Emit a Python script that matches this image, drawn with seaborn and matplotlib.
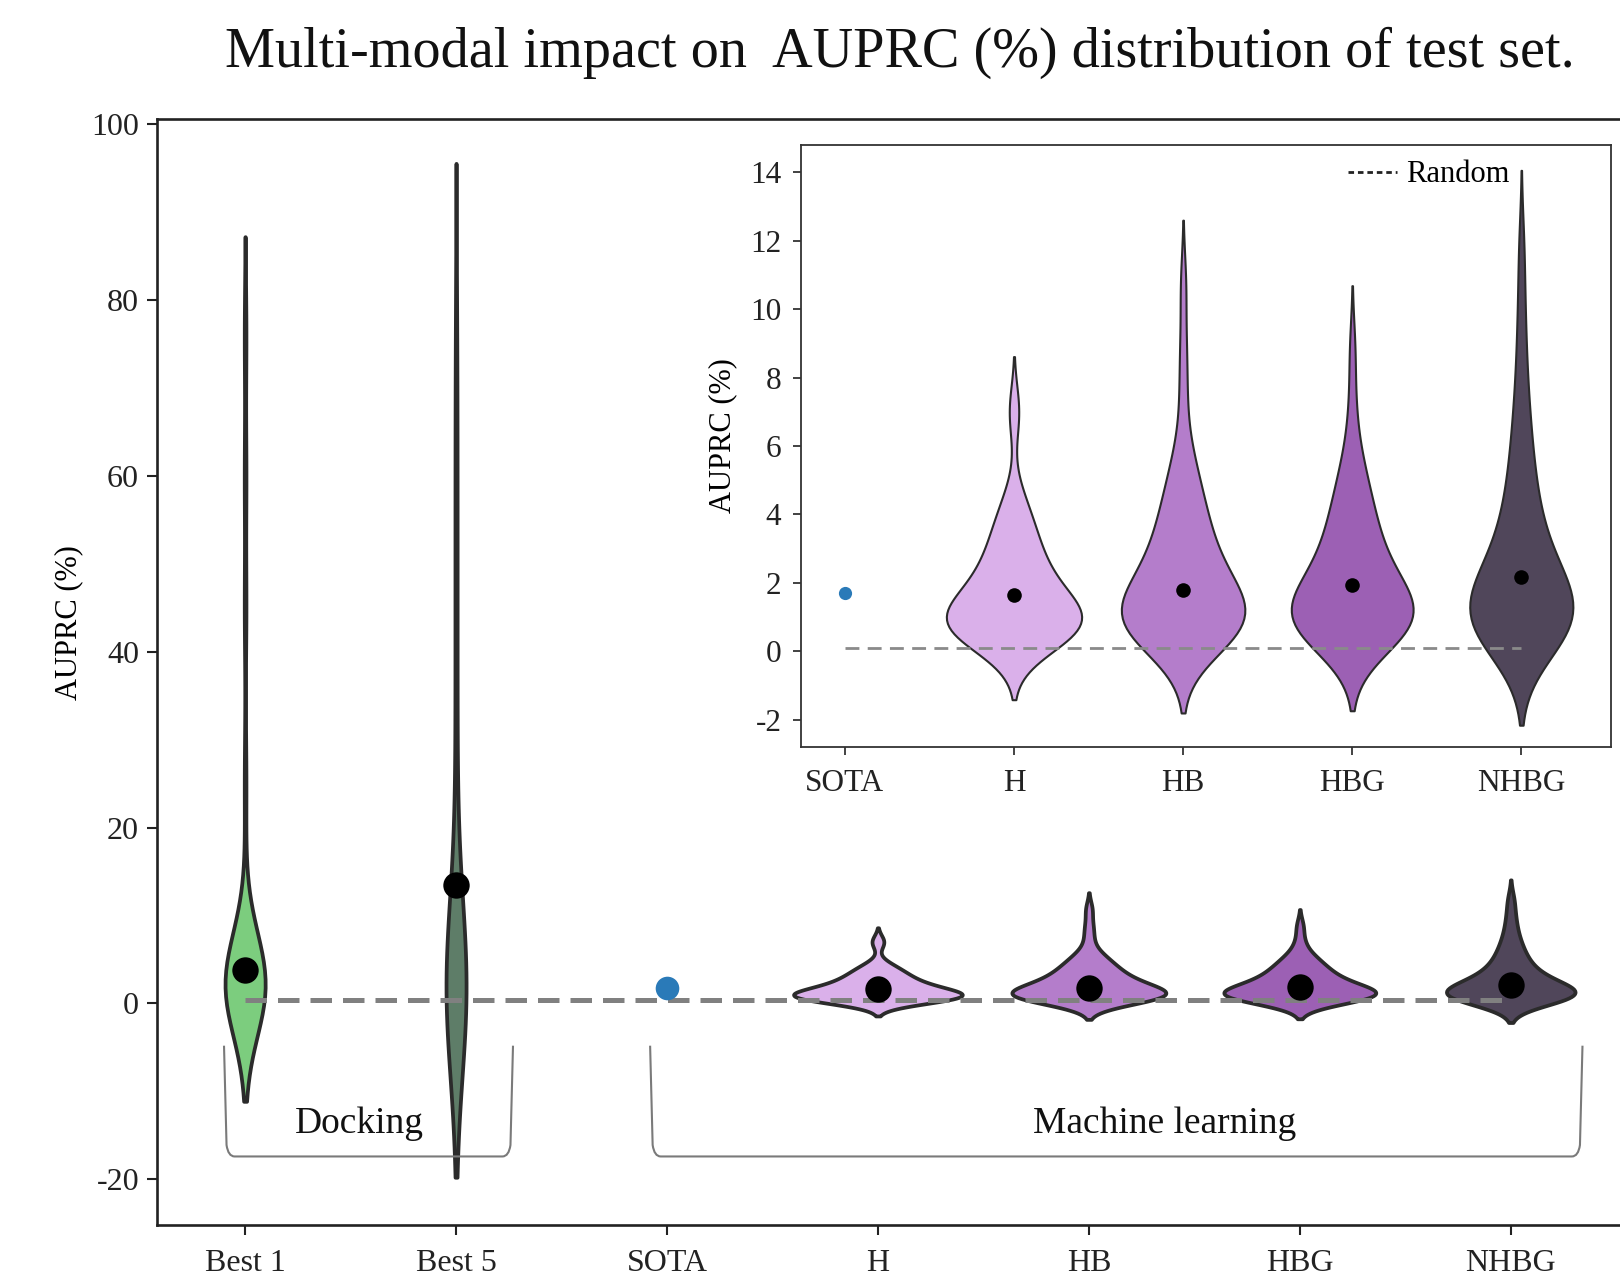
import numpy as np
import pandas as pd
import matplotlib
matplotlib.use("Agg")
import matplotlib.pyplot as plt
import seaborn as sns
from matplotlib.path import Path
from matplotlib.patches import PathPatch
from matplotlib.lines import Line2D

# ---------------- data ----------------
categories = ["Best 1", "Best 5", "SOTA", "H", "HB", "HBG", "NHBG"]
inset_categories = ["SOTA", "H", "HB", "HBG", "NHBG"]
violin_categories = ["Best 1", "Best 5", "H", "HB", "HBG", "NHBG"]
ml_violin_categories = ["H", "HB", "HBG", "NHBG"]

best1_values = [0.1, 0.3, 0.5, 0.6, 0.8, 0.9, 1.0, 1.1, 1.2, 1.3, 1.4, 1.5, 1.6, 1.8,
                2.0, 2.2, 2.4, 2.6, 2.9, 3.2, 3.5, 3.9, 4.4, 5.0, 6.0, 8.0, 25.0,
                45.0, 60.0, 76.0]
best5_values = [0.0, 0.05, 0.1, 0.15, 0.2, 0.3, 0.4, 0.5, 0.6, 0.7, 0.8, 1.0, 1.2, 1.4,
                1.6, 1.9, 2.2, 2.6, 3.0, 3.5, 4.2, 5.0, 8.0, 15.0, 25.0, 35.0, 45.0,
                55.0, 65.0, 75.8]
h_values = [0.1, 0.2, 0.3, 0.35, 0.4, 0.45, 0.5, 0.5, 0.55, 0.6, 0.65, 0.7, 0.75,
            0.75, 0.8, 0.85, 0.9, 0.95, 1.0, 1.0, 1.05, 1.1, 1.15, 1.2, 1.25, 1.3,
            1.4, 1.5, 1.6, 1.7, 1.8, 1.9, 2.0, 2.1, 2.2, 2.3, 2.45, 2.6, 2.75, 2.9,
            3.05, 3.2, 3.4, 3.6, 3.8, 4.0, 4.3, 4.6, 6.9, 7.1]
hb_values = [0.1, 0.2, 0.3, 0.35, 0.4, 0.5, 0.55, 0.6, 0.7, 0.75, 0.8, 0.85, 0.9,
             0.95, 1.0, 1.05, 1.1, 1.2, 1.25, 1.3, 1.4, 1.5, 1.6, 1.7, 1.8, 1.9, 2.0,
             2.1, 2.25, 2.4, 2.55, 2.7, 2.85, 3.0, 3.2, 3.4, 3.6, 3.8, 4.0, 4.25, 4.5,
             4.8, 5.1, 5.5, 6.0, 7.4, 8.8, 10.7]
hbg_values = [0.15, 0.25, 0.3, 0.4, 0.45, 0.5, 0.6, 0.65, 0.7, 0.8, 0.85, 0.9, 0.95,
              1.0, 1.05, 1.1, 1.15, 1.2, 1.3, 1.35, 1.4, 1.5, 1.6, 1.7, 1.8, 1.9, 2.0,
              2.15, 2.3, 2.45, 2.6, 2.75, 2.9, 3.1, 3.3, 3.5, 3.7, 3.9, 4.15, 4.4,
              4.7, 5.0, 5.4, 5.9, 7.1, 8.8]
nhbg_values = [0.1, 0.2, 0.3, 0.35, 0.45, 0.5, 0.6, 0.65, 0.7, 0.8, 0.85, 0.9, 1.0,
               1.05, 1.1, 1.2, 1.25, 1.3, 1.4, 1.5, 1.6, 1.7, 1.8, 1.9, 2.0, 2.15,
               2.3, 2.45, 2.6, 2.8, 3.0, 3.2, 3.45, 3.7, 4.0, 4.3, 4.6, 5.0, 5.4, 5.9,
               6.4, 7.0, 7.8, 8.8, 10.1, 11.8]

mean_values = [3.85, 13.5, 1.71, 1.64, 1.80, 1.93, 2.16]
sota_value = 1.71
random_main = 0.45
random_inset = 0.11

group_labels = ["Docking", "Machine learning"]

distributions = {
    "Best 1": best1_values, "Best 5": best5_values, "H": h_values,
    "HB": hb_values, "HBG": hbg_values, "NHBG": nhbg_values,
}

# ---------------- styles ----------------
palette = {
    "Best 1": "#7ccd7e", "Best 5": "#5e7d68", "H": "#dab0ea",
    "HB": "#b47dcb", "HBG": "#9c60b4", "NHBG": "#50465a",
}
widths = {"Best 1": 0.19, "Best 5": 0.095, "H": 0.80, "HB": 0.73,
          "HBG": 0.72, "NHBG": 0.61}
bw_adjust = {"Best 1": 0.6, "Best 5": 0.92, "H": 1.05, "HB": 0.9,
             "HBG": 1.05, "NHBG": 0.88}
sota_color = "#2a7ab8"
edge_color = "#2b2b2b"

plt.rcParams["font.family"] = ["Liberation Serif", "DejaVu Serif"]
plt.rcParams["axes.unicode_minus"] = False

fig = plt.figure(figsize=(16.2, 12.77), dpi=100)

# ---------------- main axes ----------------
ax = fig.add_axes([0.097, 0.0407, 0.915, 0.866])

for cat in violin_categories:
    vals = distributions[cat]
    df = pd.DataFrame({"model": [cat] * len(vals), "auprc": vals})
    sns.violinplot(data=df, x="model", y="auprc", order=categories,
                   color=palette[cat], saturation=1, width=widths[cat],
                   density_norm="width", inner=None, linewidth=2.7,
                   linecolor=edge_color, bw_adjust=bw_adjust[cat], cut=2, ax=ax)

x_first = categories.index("Best 1")
x_last = categories.index("NHBG")
ax.plot([x_first, x_last], [random_main, random_main], color="#808080",
        lw=3.6, ls=(0, (4.3, 2.2)), zorder=4)

mean_cats = [c for c in categories if c != "SOTA"]
mean_vals = [m for c, m in zip(categories, mean_values) if c != "SOTA"]
sns.stripplot(x=mean_cats, y=mean_vals, order=categories, jitter=False,
              color="black", size=19, linewidth=0, ax=ax, zorder=6)
sns.stripplot(x=["SOTA"], y=[sota_value], order=categories, jitter=False,
              color=sota_color, size=17, linewidth=0, ax=ax, zorder=6)

ax.set_xlim(-0.417, 6.61)
ax.set_ylim(-25.2, 100.6)
ax.set_yticks([-20, 0, 20, 40, 60, 80, 100])
ax.set_xticks(range(len(categories)))
ax.set_xticklabels(categories)
ax.set_xlabel("")
ax.set_ylabel("AUPRC (%)", fontsize=22)
ax.yaxis.set_label_coords(-0.050, 0.545)
ax.tick_params(axis="both", direction="out", length=7, width=1.5,
               colors="#222222", labelsize=23)
ax.tick_params(axis="y", pad=6)
ax.tick_params(axis="x", pad=10)
for s in ax.spines.values():
    s.set_linewidth(1.9)
    s.set_color("#222222")

# brackets
def bracket(axis, x0, x1, ytop, ybot, rx=0.05, ry=1.3):
    verts = [(x0, ytop), (x0 + 0.012, ybot + ry), (x0 + 0.02, ybot), (x0 + rx, ybot),
             (x1 - rx, ybot), (x1 - 0.02, ybot), (x1 - 0.012, ybot + ry), (x1, ytop)]
    codes = [Path.MOVETO, Path.LINETO, Path.CURVE3, Path.CURVE3,
             Path.LINETO, Path.CURVE3, Path.CURVE3, Path.LINETO]
    axis.add_patch(PathPatch(Path(verts, codes), fill=False, ec="#7a7a7a",
                             lw=1.5, zorder=3))

bracket_spans = [(-0.10, 1.27), (1.92, 6.34)]
label_x = [0.54, 4.36]
for (x0, x1), lx, lab in zip(bracket_spans, label_x, group_labels):
    bracket(ax, x0, x1, -4.8, -17.4)
    ax.text(lx, -13.7, lab, ha="center", va="center", fontsize=27, color="#111111")

# title
fig.text(0.5555, 0.959, "Multi-modal impact on  AUPRC (%) distribution of test set.",
         ha="center", va="center", fontsize=40.5, color="#111111")

# ---------------- inset ----------------
ins = fig.add_axes([0.4944, 0.415, 0.5, 0.4714])
ins.set_facecolor("white")
for cat in ml_violin_categories:
    vals = distributions[cat]
    df = pd.DataFrame({"model": [cat] * len(vals), "auprc": vals})
    sns.violinplot(data=df, x="model", y="auprc", order=inset_categories,
                   color=palette[cat], saturation=1, width=widths[cat],
                   density_norm="width", inner=None, linewidth=1.5,
                   linecolor=edge_color, bw_adjust=bw_adjust[cat], cut=2, ax=ins)

i_first = inset_categories.index("SOTA")
i_last = inset_categories.index("NHBG")
ins.plot([i_first, i_last], [random_inset, random_inset], color="#8a8a8a",
         lw=2.0, ls=(0, (5, 3)), zorder=4)

ins_mean_cats = [c for c in inset_categories if c != "SOTA"]
ins_mean_vals = [m for c, m in zip(categories, mean_values) if c in ins_mean_cats]
sns.stripplot(x=ins_mean_cats, y=ins_mean_vals, order=inset_categories,
              jitter=False, color="black", size=10.5, linewidth=0, ax=ins, zorder=6)
sns.stripplot(x=["SOTA"], y=[sota_value], order=inset_categories, jitter=False,
              color=sota_color, size=9.5, linewidth=0, ax=ins, zorder=6)

ins.set_xlim(-0.26, 4.53)
ins.set_ylim(-2.8, 14.8)
ins.set_yticks([-2, 0, 2, 4, 6, 8, 10, 12, 14])
ins.set_xticks(range(len(inset_categories)))
ins.set_xticklabels(inset_categories)
ins.set_xlabel("")
ins.set_ylabel("AUPRC (%)", fontsize=22)
ins.yaxis.set_label_coords(-0.079, 0.518)
ins.tick_params(axis="both", direction="out", length=6, width=1.2,
                colors="#222222", labelsize=22.5)
ins.tick_params(axis="y", pad=8)
ins.tick_params(axis="x", pad=10)
for s in ins.spines.values():
    s.set_linewidth(1.3)
    s.set_color("#333333")

handle = Line2D([], [], color="#222222", lw=2.0, ls=(0, (2.0, 1.4)))
ins.legend([handle], ["Random"], loc="upper right", bbox_to_anchor=(0.89, 0.995),
           frameon=False, fontsize=22, handlelength=1.6, handletextpad=0.3,
           borderaxespad=0)

fig.savefig("out.png", dpi=100)
